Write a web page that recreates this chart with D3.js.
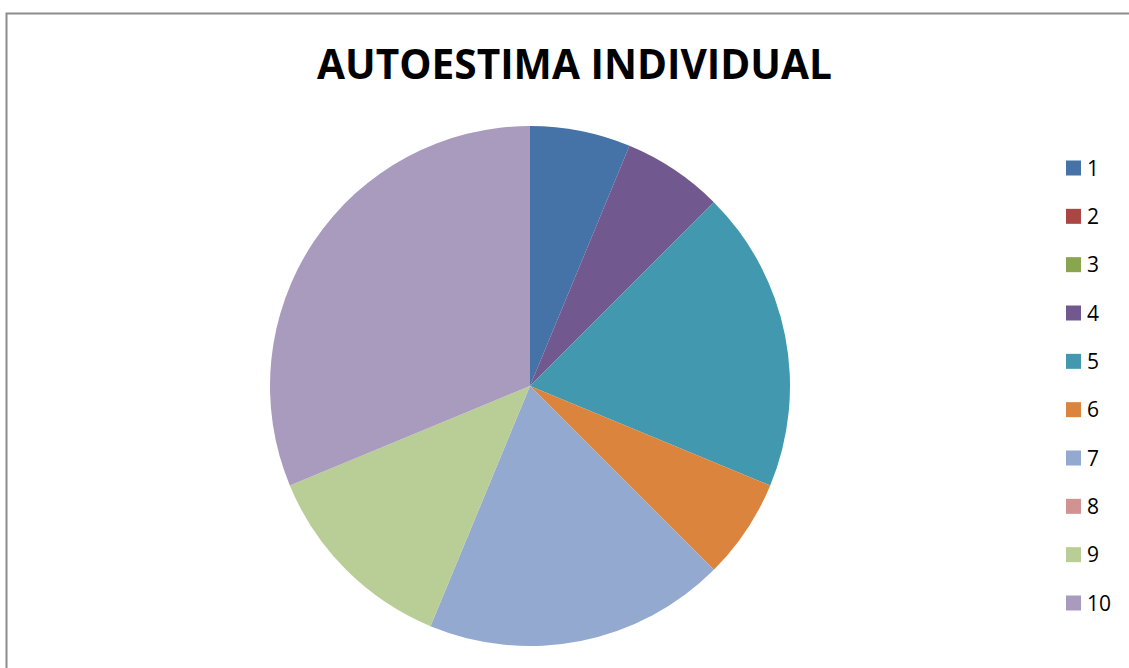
<!DOCTYPE html>
<html>
<head>
<meta charset="utf-8">
<script src="https://cdn.jsdelivr.net/npm/d3@7"></script>
<style>
  body { margin: 0; background: #fff; }
  svg { display: block; }
</style>
</head>
<body>
<svg id="svg0" width="1129" height="668"></svg>
<script>
// datos del grafico
var categorias = ["1", "2", "3", "4", "5", "6", "7", "8", "9", "10"];
var valores = [1, 0, 0, 1, 3, 1, 3, 0, 2, 5];
var colores = ["#4572A7", "#AA4643", "#89A54E", "#71588F", "#4198AF",
               "#DB843D", "#93A9CF", "#D19392", "#B9CD96", "#A99BBD"];
var titulo = "AUTOESTIMA INDIVIDUAL";

var svg = d3.select("#svg0");

// marco
svg.append("path")
  .attr("d", "M6.5,700 L6.5,13.5 L1140,13.5")
  .attr("fill", "none")
  .attr("stroke", "#8c8c8c")
  .attr("stroke-width", 2);

svg.append("text")
  .attr("x", 574.5).attr("y", 79)
  .attr("text-anchor", "middle")
  .attr("font-family", "'Open Sans', sans-serif")
  .attr("font-weight", "bold")
  .attr("font-size", 41)
  .attr("textLength", 515)
  .attr("lengthAdjust", "spacingAndGlyphs")
  .text(titulo);

var color = d3.scaleOrdinal().domain(categorias).range(colores);

var pie = d3.pie().sort(null).value(function(d){ return d.v; });
var arc = d3.arc().innerRadius(0).outerRadius(260);

var datos = categorias.map(function(c, i){ return {cat: c, v: valores[i]}; });

var g = svg.append("g").attr("transform", "translate(530,386)");
g.selectAll("path").data(pie(datos))
  .enter().append("path")
  .attr("d", arc)
  .attr("fill", function(d){ return color(d.data.cat); });

// leyenda
var y = d3.scalePoint().domain(categorias).range([168, 603]);
var ley = svg.selectAll("g.ley").data(categorias)
  .enter().append("g").attr("class", "ley")
  .attr("transform", function(d){ return "translate(1066," + y(d) + ")"; });
ley.append("rect")
  .attr("x", 0).attr("y", -7.5)
  .attr("width", 15).attr("height", 15)
  .attr("fill", function(d){ return color(d); });
ley.append("text")
  .attr("x", 21).attr("y", 7.5)
  .attr("font-family", "'Open Sans', sans-serif")
  .attr("font-size", 21)
  .attr("fill", "#000")
  .text(function(d){ return d; });
</script>
</body>
</html>
